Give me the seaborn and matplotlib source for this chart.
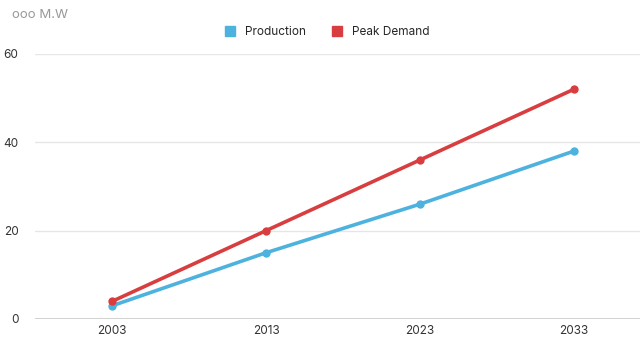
import matplotlib
matplotlib.use('Agg')
import matplotlib.pyplot as plt
import seaborn as sns
import pandas as pd
from matplotlib.lines import Line2D

years = ['2003', '2013', '2023', '2033']
production = [3, 15, 26, 38]
peak_demand = [4, 20, 36, 52]

df = pd.DataFrame({
    'Year': years * 2,
    'Value': production + peak_demand,
    'Series': ['Production'] * 4 + ['Peak Demand'] * 4,
})

sns.set_style("white")
plt.rcParams['font.family'] = ['Inter', 'DejaVu Sans']

colors = {'Production': '#4DB2DE', 'Peak Demand': '#D83E3F'}

fig = plt.figure(figsize=(6.4, 3.39), dpi=100)
ax = fig.add_axes([0.055, 0.059, 0.962, 0.782])

sns.lineplot(data=df, x='Year', y='Value', hue='Series', palette=colors,
             marker='o', markersize=6, markeredgewidth=0, lw=2.6, ax=ax,
             legend=False)

ax.set_xlim(-0.5, 3.5)
ax.set_ylim(0, 60)
ax.set_yticks([0, 20, 40, 60])
ax.grid(axis='y', color='#e6e6e6', lw=1)
ax.axhline(0, color='#cccccc', lw=1.2)
sns.despine(ax=ax, left=True, bottom=True, top=True, right=True)
ax.tick_params(axis='both', length=0, labelsize=8.5, colors='#333333')
ax.tick_params(axis='y', pad=12)
ax.tick_params(axis='x', pad=4)
ax.set_xlabel('')
ax.set_ylabel('')

fig.text(0.019, 0.955, 'ooo M.W', fontsize=9.5, color='#999999', va='center')

handles = [Line2D([], [], marker='s', color=colors[s], lw=0, markersize=7) for s in ['Production', 'Peak Demand']]
fig.legend(handles, ['Production', 'Peak Demand'], loc='center', bbox_to_anchor=(0.506, 0.906),
           ncol=2, frameon=False, fontsize=8.5, handletextpad=0.3, columnspacing=1.6)

fig.savefig('out.png', dpi=100)
